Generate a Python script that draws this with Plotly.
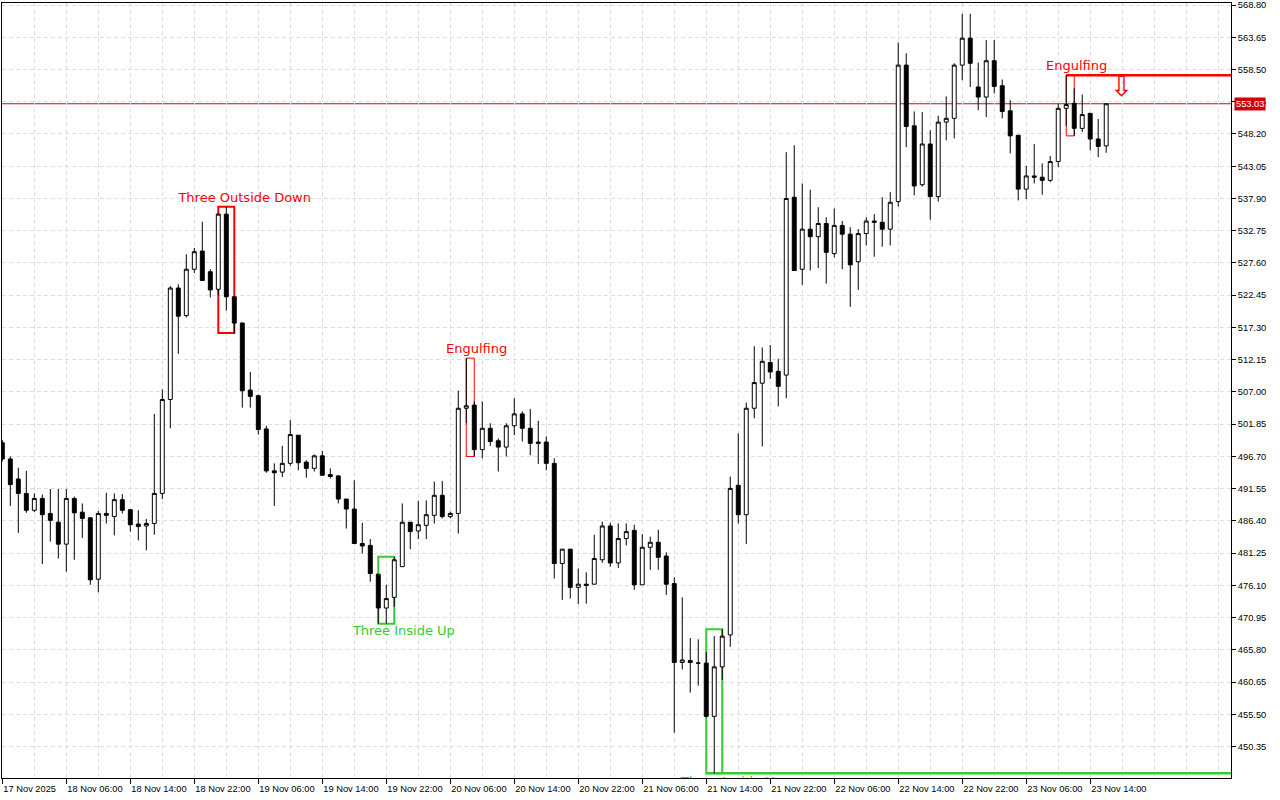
import plotly.graph_objects as go

# ---------------- data (hourly candles, 17 Nov 2025 22:00 -> 23 Nov 2025 16:00) ----------------
opens = [498.9, 496.3, 493.1, 490.8, 488.1, 490.0, 487.6, 486.2, 482.7, 490.0,
         487.8, 486.9, 477.1, 487.6, 487.1, 489.8, 488.2, 485.9, 485.6, 486.0,
         490.8, 505.8, 523.6, 519.2, 526.6, 529.5, 526.2, 523.4, 535.4, 522.2,
         518.0, 507.3, 506.4, 501.1, 494.4, 494.2, 495.6, 500.1, 495.8, 494.8,
         496.8, 493.8, 493.6, 489.9, 488.3, 482.8, 482.5, 477.9, 472.5, 474.2,
         479.1, 486.2, 484.8, 485.7, 487.3, 490.5, 487.1, 487.6, 504.4, 504.9,
         497.8, 501.2, 499.2, 498.2, 501.6, 503.5, 501.2, 499.0, 499.0, 495.6,
         479.6, 481.9, 475.8, 476.3, 476.3, 480.2, 485.6, 479.7, 483.6, 484.9,
         476.2, 482.2, 483.0, 480.8, 476.4, 463.8, 464.1, 463.7, 463.7, 455.2,
         463.1, 468.2, 492.1, 487.4, 504.4, 508.4, 511.7, 510.3, 509.7, 538.1,
         526.6, 533.0, 531.8, 533.9, 529.1, 533.6, 532.2, 527.8, 532.3, 534.3,
         534.1, 533.0, 537.4, 559.2, 549.5, 540.1, 546.6, 538.2, 550.1, 550.7,
         559.2, 563.5, 555.7, 554.1, 559.9, 555.9, 551.9, 548.0, 539.4, 541.5,
         541.3, 540.8, 543.8, 552.3, 553.1, 549.1, 551.5, 547.4, 546.3]
highs = [499.3, 496.7, 494.9, 494.4, 490.8, 490.6, 491.5, 491.5, 491.5, 490.3,
         489.2, 487.0, 488.0, 490.9, 490.8, 490.7, 488.2, 488.1, 486.7, 503.5,
         507.4, 523.9, 524.2, 529.0, 530.0, 534.2, 526.6, 535.6, 536.6, 522.2,
         518.1, 510.2, 506.6, 501.6, 495.6, 498.4, 502.5, 500.1, 496.1, 497.0,
         497.6, 494.8, 493.7, 489.9, 492.9, 486.1, 483.5, 477.9, 476.2, 480.7,
         489.2, 486.2, 489.6, 489.7, 492.7, 492.8, 487.9, 507.2, 512.4, 505.5,
         505.5, 502.0, 499.6, 502.0, 506.0, 503.9, 504.3, 502.4, 499.9, 496.4,
         481.9, 481.9, 478.8, 478.2, 484.2, 486.3, 486.1, 486.0, 486.0, 485.8,
         484.3, 483.9, 485.0, 481.4, 477.4, 474.2, 467.7, 467.5, 465.5, 468.0,
         469.1, 493.5, 500.4, 505.3, 514.3, 514.1, 514.5, 512.3, 545.3, 546.4,
         540.3, 539.3, 536.5, 534.9, 536.3, 534.3, 533.3, 533.0, 534.9, 535.4,
         538.1, 538.9, 562.8, 561.1, 551.8, 551.7, 548.8, 551.1, 554.2, 559.5,
         567.4, 567.4, 559.6, 563.2, 563.2, 556.9, 553.6, 548.0, 543.1, 546.6,
         543.5, 544.7, 553.1, 557.6, 555.5, 554.5, 551.5, 550.6, 553.1]
lows = [495.9, 488.8, 484.5, 487.7, 487.8, 479.5, 483.1, 480.4, 478.3, 480.2,
        483.7, 476.2, 475.0, 486.0, 484.1, 487.6, 484.7, 483.3, 481.7, 484.2,
        489.9, 501.2, 513.1, 518.9, 526.0, 524.8, 522.1, 522.4, 520.0, 516.4,
        504.5, 504.5, 500.2, 494.1, 488.8, 493.4, 495.2, 494.5, 493.3, 494.3,
        493.7, 493.2, 489.2, 485.2, 482.8, 481.2, 476.7, 470.0, 470.0, 472.7,
        479.1, 481.9, 483.5, 483.5, 486.0, 486.8, 486.8, 484.4, 502.0, 496.7,
        496.4, 498.4, 494.3, 496.7, 500.1, 499.1, 496.9, 495.5, 494.5, 477.2,
        473.8, 474.0, 473.1, 473.2, 476.3, 479.7, 479.1, 478.9, 482.5, 475.4,
        476.2, 478.6, 478.6, 474.6, 452.6, 462.7, 459.0, 460.1, 455.0, 446.1,
        461.0, 466.3, 486.0, 482.7, 502.8, 498.3, 509.1, 504.7, 506.0, 526.4,
        524.1, 526.4, 526.8, 524.3, 528.5, 526.6, 520.6, 523.3, 530.4, 528.6,
        530.2, 530.4, 536.6, 546.1, 538.4, 539.8, 534.5, 537.4, 547.2, 547.5,
        556.8, 555.7, 552.0, 550.9, 554.7, 550.7, 545.1, 537.6, 537.8, 540.3,
        538.5, 540.5, 542.9, 549.5, 547.9, 548.5, 545.6, 544.5, 545.2]
closes = [496.3, 492.2, 490.8, 488.1, 490.0, 487.4, 486.5, 482.7, 490.0, 487.7,
          486.8, 477.0, 487.6, 487.3, 489.8, 488.1, 485.8, 485.5, 486.0, 490.8,
          505.8, 523.6, 519.1, 526.6, 529.4, 524.8, 523.3, 535.4, 522.2, 518.0,
          507.2, 506.3, 501.0, 494.4, 494.1, 495.6, 500.2, 495.7, 494.8, 496.8,
          493.7, 493.5, 489.9, 488.3, 482.8, 482.4, 478.0, 472.5, 474.0, 480.2,
          486.2, 484.7, 485.8, 487.4, 490.5, 487.1, 487.6, 504.4, 504.8, 497.8,
          501.2, 499.1, 498.2, 501.6, 503.5, 501.2, 498.8, 498.8, 495.6, 479.6,
          481.9, 475.8, 476.3, 476.1, 480.4, 485.6, 479.7, 483.6, 484.7, 476.2,
          482.2, 483.0, 480.6, 476.3, 463.8, 464.2, 463.8, 463.7, 455.2, 463.1,
          468.0, 491.6, 487.4, 504.4, 508.5, 511.9, 510.2, 507.9, 537.9, 526.4,
          533.0, 531.8, 533.9, 529.3, 533.6, 532.2, 527.3, 532.3, 534.3, 534.1,
          533.0, 537.3, 559.2, 549.4, 539.9, 546.6, 538.2, 550.1, 550.7, 559.2,
          563.5, 559.5, 554.1, 559.9, 555.8, 551.8, 547.9, 539.4, 541.5, 541.3,
          540.8, 543.8, 552.3, 552.9, 549.1, 551.3, 547.4, 546.2, 553.03]

x_tick_bars = [0, 8, 16, 24, 32, 40, 48, 56, 64, 72, 80, 88, 96, 104, 112, 120, 128, 136]
x_tick_labels = ["17 Nov 2025", "18 Nov 06:00", "18 Nov 14:00", "18 Nov 22:00",
                 "19 Nov 06:00", "19 Nov 14:00", "19 Nov 22:00", "20 Nov 06:00",
                 "20 Nov 14:00", "20 Nov 22:00", "21 Nov 06:00", "21 Nov 14:00",
                 "21 Nov 22:00", "22 Nov 06:00", "22 Nov 14:00", "22 Nov 22:00",
                 "23 Nov 06:00", "23 Nov 14:00"]
y_ticks = [450.35, 455.50, 460.65, 465.80, 470.95, 476.10, 481.25, 486.40,
           491.55, 496.70, 501.85, 507.00, 512.15, 517.30, 522.45, 527.60,
           532.75, 537.90, 543.05, 548.20, 553.35, 558.50, 563.65, 568.80]
current_price = 553.03

# candle patterns
pattern_names = ["Three Outside Down", "Engulfing", "Three Inside Up",
                 "Three Inside Up", "Engulfing"]
pattern_first = [27, 58, 47, 88, 133]
pattern_last = [29, 59, 49, 90, 134]
pattern_low = [516.4, 496.7, 470.0, 446.1, 547.9]
pattern_high = [536.6, 512.4, 480.7, 469.1, 557.6]
pattern_bull = [False, False, True, True, False]
pattern_label_x = [30.3, 59.3, 50.2, 91.2, 134.3]
pattern_label_y = [537.8, 513.7, 468.7, 444.6, 558.9]
pattern_extend = [None, None, None, "low", "high"]
pattern_width = [2, 1, 2, 2, 1]
signal_arrow_bar = 139.9
signal_arrow_price = 555.4

RED = "#ff0000"
GREEN = "#32cd32"
GRID = "#dedede"

bars = list(range(len(opens)))

fig = go.Figure()
fig.add_trace(go.Candlestick(
    x=bars, open=opens, high=highs, low=lows, close=closes,
    increasing=dict(line=dict(color="black", width=1), fillcolor="white"),
    decreasing=dict(line=dict(color="black", width=1), fillcolor="black"),
    whiskerwidth=0, showlegend=False, hoverinfo="skip"))

x_right = 153.6
for name, a, b, lo, hi, bull, ext, w in zip(pattern_names, pattern_first, pattern_last,
                                            pattern_low, pattern_high, pattern_bull,
                                            pattern_extend, pattern_width):
    col = GREEN if bull else RED
    fig.add_shape(type="rect", x0=a, x1=b, y0=lo, y1=hi, xref="x", yref="y",
                  line=dict(color=col, width=w), fillcolor="rgba(0,0,0,0)", layer="between")
    if ext == "low":
        fig.add_shape(type="line", x0=a, x1=x_right, y0=lo, y1=lo,
                      line=dict(color=col, width=2.5), layer="between")
    elif ext == "high":
        fig.add_shape(type="line", x0=a, x1=x_right, y0=hi, y1=hi,
                      line=dict(color=col, width=2.5), layer="between")

fig.add_trace(go.Scatter(
    x=pattern_label_x, y=pattern_label_y, mode="text", text=pattern_names,
    textposition="middle center", cliponaxis=True, hoverinfo="skip", showlegend=False,
    textfont=dict(family="DejaVu Sans", size=13,
                  color=[GREEN if b else RED for b in pattern_bull])))

fig.add_trace(go.Scatter(
    x=[signal_arrow_bar], y=[signal_arrow_price], mode="text", text=["\u21e9"],
    cliponaxis=True, hoverinfo="skip", showlegend=False,
    textfont=dict(family="DejaVu Sans", size=28, color=RED)))

# current price line and label
fig.add_shape(type="line", xref="paper", x0=0, x1=1, yref="y", y0=current_price, y1=current_price,
              line=dict(color="#e00000", width=1), layer="between")
fig.add_annotation(xref="paper", x=1, yref="y", y=current_price, text=f"{current_price:.2f}",
                   showarrow=False, xanchor="left", xshift=3, bgcolor="#d00000",
                   font=dict(family="Liberation Sans", size=9.3, color="white"), borderpad=1)

axis_font = dict(family="Liberation Sans", size=9.3, color="black")
fig.update_layout(
    width=1280, height=800,
    margin=dict(l=2, r=49, t=3, b=22, autoexpand=False),
    paper_bgcolor="white", plot_bgcolor="white",
    showlegend=False,
    xaxis=dict(
        range=[-0.04, x_right], rangeslider=dict(visible=False), automargin=False,
        tickmode="array", tickvals=x_tick_bars, ticktext=x_tick_labels, tickangle=0,
        ticks="outside", ticklen=5, tickcolor="black", tickwidth=1,
        ticklabelposition="outside right", ticklabelstandoff=2, tickfont=axis_font,
        showline=True, linecolor="black", linewidth=1, mirror=True,
        showgrid=False, zeroline=False,
        minor=dict(tickmode="array", tickvals=list(range(0, 154, 4)), showgrid=True,
                   gridcolor=GRID, gridwidth=1, griddash="4px,3px", ticks=""),
    ),
    yaxis=dict(
        range=[445.35, 569.12], side="right", automargin=False,
        tickmode="array", tickvals=y_ticks, ticktext=[f"{v:.2f}" for v in y_ticks],
        ticks="outside", ticklen=4, tickcolor="black", tickwidth=1, tickfont=axis_font,
        showline=True, linecolor="black", linewidth=1, mirror=True,
        showgrid=True, gridcolor=GRID, gridwidth=1, griddash="4px,3px", zeroline=False,
    ),
)

fig.write_html("out.html", config={"displayModeBar": False, "staticPlot": True},
               post_script="document.body.style.margin='0';document.body.style.overflow='hidden';")
